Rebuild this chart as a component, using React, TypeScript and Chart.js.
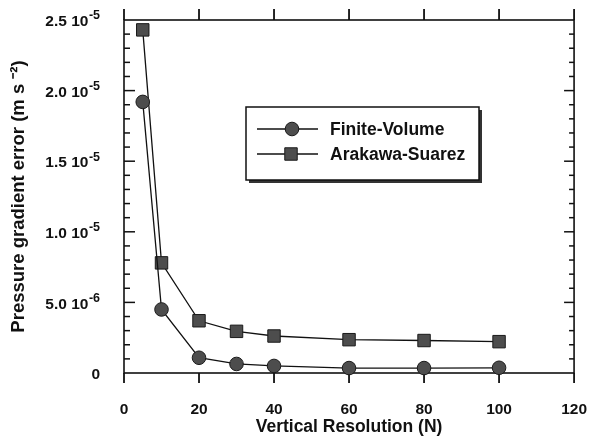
import { useEffect, useRef } from 'react';
import { Chart, registerables } from 'chart.js';

Chart.register(...registerables);

// ---- data ----
const resolution = [5, 10, 20, 30, 40, 60, 80, 100];
const finiteVolume = [19.2e-6, 4.5e-6, 1.08e-6, 0.64e-6, 0.5e-6, 0.35e-6, 0.35e-6, 0.37e-6];
const arakawaSuarez = [24.3e-6, 7.8e-6, 3.7e-6, 2.95e-6, 2.62e-6, 2.36e-6, 2.3e-6, 2.22e-6];
const seriesLabels = ['Finite-Volume', 'Arakawa-Suarez'];

const xTickValues = [0, 20, 40, 60, 80, 100, 120];
const yTickValues = [0, 5e-6, 1e-5, 1.5e-5, 2e-5, 2.5e-5];
const yTickMantissas = ['0', '5.0 10', '1.0 10', '1.5 10', '2.0 10', '2.5 10'];
const yTickExponents = ['', '-6', '-5', '-5', '-5', '-5'];
const yMinorStep = 1e-6;
const yMajorStep = 5e-6;

const FONT = '"Liberation Sans", Arial, Helvetica, sans-serif';
const INK = '#111111';

function seg(ctx: CanvasRenderingContext2D, x1: number, y1: number, x2: number, y2: number) {
  ctx.beginPath();
  ctx.moveTo(x1, y1);
  ctx.lineTo(x2, y2);
  ctx.stroke();
}

const framePlugin = {
  id: 'frameTicks',
  beforeDatasetsDraw(chart: any) {
    const { ctx, chartArea: a, scales } = chart;
    const x = scales.x;
    const y = scales.y;
    ctx.save();
    ctx.strokeStyle = INK;
    ctx.lineWidth = 1.6;
    ctx.strokeRect(a.left, a.top, a.right - a.left, a.bottom - a.top);
    ctx.lineWidth = 1.8;
    for (const v of xTickValues) {
      const px = x.getPixelForValue(v);
      seg(ctx, px, a.bottom, px, a.bottom + 10);
      seg(ctx, px, a.top, px, a.top - 11);
    }
    const n = Math.round((y.max - y.min) / yMinorStep);
    const every = Math.round(yMajorStep / yMinorStep);
    ctx.lineWidth = 1.5;
    for (let i = 1; i < n; i++) {
      const py = y.getPixelForValue(y.min + i * yMinorStep);
      const major = i % every === 0;
      seg(ctx, a.left, py, a.left + (major ? 11 : 6), py);
      seg(ctx, a.right, py, a.right - (major ? 10 : 5), py);
    }
    ctx.restore();
  },
  afterDraw(chart: any) {
    const { ctx, scales } = chart;
    const y = scales.y;
    ctx.save();
    ctx.fillStyle = INK;
    ctx.textBaseline = 'middle';
    const rightEdge = 100;
    yTickValues.forEach((v, i) => {
      const py = y.getPixelForValue(v) + 2;
      const exp = yTickExponents[i];
      let expW = 0;
      if (exp) {
        ctx.font = `bold 12.5px ${FONT}`;
        expW = ctx.measureText(exp).width;
        ctx.textAlign = 'left';
        ctx.fillText(exp, rightEdge - expW, py - 6);
      }
      ctx.font = `bold 15.5px ${FONT}`;
      ctx.textAlign = 'right';
      ctx.fillText(yTickMantissas[i], rightEdge - expW - (exp ? 0.5 : 0), py);
    });

    // legend box inside the plot
    const bx = 246, by = 107, bw = 233, bh = 73;
    ctx.fillStyle = '#333333';
    ctx.fillRect(bx + 3, by + 3, bw, bh);
    ctx.fillStyle = '#ffffff';
    ctx.fillRect(bx, by, bw, bh);
    ctx.strokeStyle = INK;
    ctx.lineWidth = 1.5;
    ctx.strokeRect(bx, by, bw, bh);
    const rows = [129, 154];
    chart.data.datasets.forEach((ds: any, i: number) => {
      const ry = rows[i];
      ctx.strokeStyle = ds.borderColor;
      ctx.lineWidth = ds.borderWidth;
      seg(ctx, 257, ry, 318, ry);
      ctx.fillStyle = ds.pointBackgroundColor;
      ctx.strokeStyle = ds.pointBorderColor;
      ctx.lineWidth = ds.pointBorderWidth;
      ctx.beginPath();
      if (ds.pointStyle === 'rect') {
        const s = Math.SQRT1_2 * ds.pointRadius;
        ctx.rect(291 - s, ry - s, 2 * s, 2 * s);
      } else {
        ctx.arc(292, ry, ds.pointRadius, 0, Math.PI * 2);
      }
      ctx.fill();
      ctx.stroke();
      ctx.fillStyle = INK;
      ctx.font = `bold 17.5px ${FONT}`;
      ctx.textAlign = 'left';
      ctx.textBaseline = 'middle';
      ctx.fillText(ds.label, 330, ry + 1);
    });
    ctx.restore();
  },
};

export default function App() {
  const ref = useRef<HTMLCanvasElement | null>(null);
  useEffect(() => {
    if (!ref.current) return;
    const common = {
      borderColor: INK,
      borderWidth: 1.3,
      pointBackgroundColor: '#4d4d4d',
      pointBorderColor: '#1a1a1a',
      pointBorderWidth: 1,
      clip: false as any,
      tension: 0,
    };
    const chart = new Chart(ref.current, {
      type: 'line',
      data: {
        datasets: [
          {
            ...common,
            label: seriesLabels[0],
            data: resolution.map((r, i) => ({ x: r, y: finiteVolume[i] })),
            pointStyle: 'circle',
            pointRadius: 6.8,
          },
          {
            ...common,
            label: seriesLabels[1],
            data: resolution.map((r, i) => ({ x: r, y: arakawaSuarez[i] })),
            pointStyle: 'rect',
            pointRadius: 8.8,
          },
        ],
      },
      options: {
        responsive: false,
        animation: false,
        layout: { padding: { top: 20, right: 17, left: 0, bottom: 0 } },
        plugins: { legend: { display: false }, tooltip: { enabled: false } },
        scales: {
          x: {
            type: 'linear',
            min: 0,
            max: 120,
            afterFit: (s: any) => { s.height = 69; },
            ticks: {
              stepSize: 20,
              padding: 27,
              color: INK,
              font: { family: FONT, size: 15.5, weight: 'bold' },
            },
            grid: { display: false, drawTicks: false, tickLength: 0 },
            border: { display: false },
            title: {
              display: true,
              text: 'Vertical Resolution (N)',
              color: INK,
              font: { family: FONT, size: 17.5, weight: 'bold' },
              padding: { top: 0, bottom: 4 },
            },
          },
          y: {
            type: 'linear',
            min: 0,
            max: 2.5e-5,
            afterFit: (s: any) => { s.width = 124; },
            ticks: { display: false, stepSize: 5e-6 },
            grid: { display: false, drawTicks: false, tickLength: 0 },
            border: { display: false },
            title: {
              display: true,
              text: 'Pressure gradient error (m s ⁻²)',
              color: INK,
              font: { family: FONT, size: 18.5, weight: 'bold' },
              padding: { top: 8, bottom: 0 },
            },
          },
        },
      } as any,
      plugins: [framePlugin],
    });
    return () => chart.destroy();
  }, []);
  return (
    <div style={{ position: 'absolute', left: 0, top: 0, width: 614, height: 442, background: '#fff' }}>
      <canvas ref={ref} width={614} height={442} style={{ display: 'block' }} />
    </div>
  );
}
